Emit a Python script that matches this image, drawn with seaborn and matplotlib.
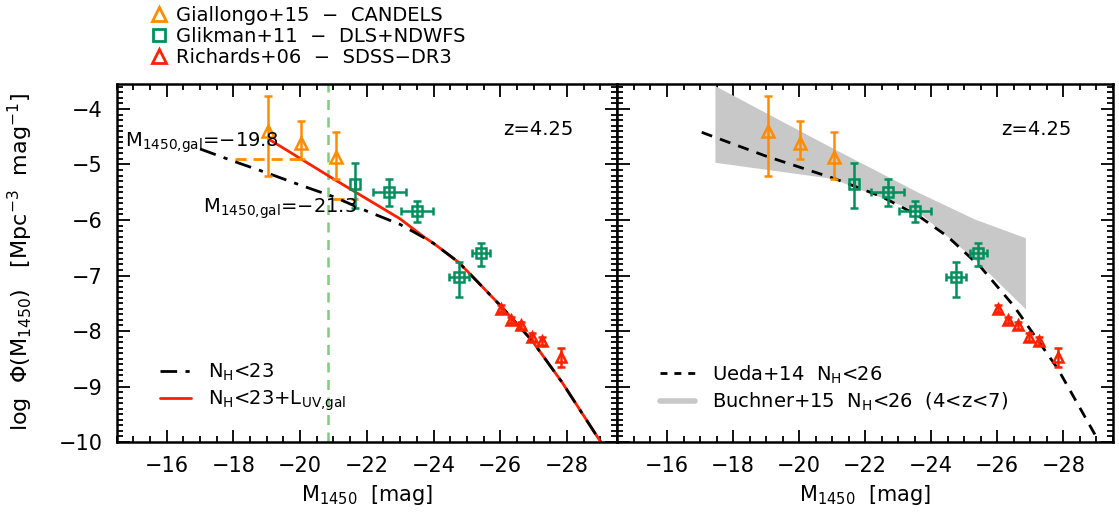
"""Quasar UV luminosity function at z=4.25: model curves vs. data
"""

import numpy as np
import matplotlib
matplotlib.use('Agg')
import matplotlib.pyplot as plt
from matplotlib.lines import Line2D
from matplotlib.ticker import MultipleLocator
import seaborn as sns

# Giallongo+15 (CANDELS)
gia_m = [-19.05, -20.03, -21.07]
gia_phi = [-4.39, -4.61, -4.87]
gia_err_up = [0.63, 0.39, 0.45]
gia_err_dw = [0.81, 0.29, 0.40]

# Glikman+11 (DLS+NDWFS)
gli_m = [-21.65, -22.68, -23.50, -24.75, -25.42]
gli_phi = [-5.35, -5.50, -5.83, -7.03, -6.60]
gli_err_up = [0.37, 0.23, 0.18, 0.28, 0.19]
gli_err_dw = [0.44, 0.25, 0.21, 0.36, 0.22]
gli_xerr = [0.0, 0.50, 0.48, 0.30, 0.26]

# Richards+06 (SDSS-DR3)
ric_m = [-26.02, -26.32, -26.63, -26.95, -27.25, -27.83]
ric_phi = [-7.60, -7.80, -7.90, -8.11, -8.18, -8.47]
ric_err = [0.06, 0.06, 0.06, 0.07, 0.08, 0.17]

# N_H<23 model (dash-dot)
nh23_m = [-17.0, -18.0, -19.0, -20.0, -21.0, -22.0, -23.0, -23.6, -24.0,
          -24.75, -25.3, -26.05, -26.95, -27.85, -28.95, -29.5]
nh23_phi = [-4.72, -4.94, -5.15, -5.37, -5.58, -5.84, -6.08, -6.28, -6.42,
            -6.76, -7.10, -7.57, -8.17, -8.92, -9.94, -10.45]

# N_H<23 + galaxy UV light (solid red)
gal_m = [-19.05, -20.0, -21.0, -22.0, -23.0, -23.7, -24.0, -24.75, -25.3,
         -26.05, -26.95, -27.85, -28.95, -29.5]
gal_phi = [-4.54, -4.89, -5.26, -5.62, -5.98, -6.30, -6.42, -6.76, -7.10,
           -7.57, -8.17, -8.92, -9.94, -10.45]

# Ueda+14 N_H<26 (dashed)
ueda_m = [-17.05, -19.0, -21.1, -22.5, -23.6, -24.5, -25.5, -26.5, -27.83,
          -29.13]
ueda_phi = [-4.42, -4.85, -5.26, -5.58, -5.92, -6.30, -6.85, -7.55, -8.68,
            -10.05]

# Buchner+15 N_H<26 (4<z<7) band
buc_m = [-17.45, -21.0, -23.6, -25.3, -26.85]
buc_hi = [-3.58, -4.70, -5.50, -5.98, -6.32]
buc_lo = [-4.96, -5.25, -5.85, -6.70, -7.60]

# galaxy magnitude limits
mgal_lines = [(-18.05, -20.0, -4.90), (-21.0, -21.75, -5.62)]
m_vline = -20.84

c_gia = '#ff8c00'
c_gli = '#00905c'
c_ric = '#ff2000'
c_vline = '#80cc80'


def draw_data(ax):
    kw = dict(ls='none', capsize=3, elinewidth=1.8, capthick=1.8,
              mfc='none', mew=1.8)
    ax.errorbar(gia_m, gia_phi, yerr=[gia_err_dw, gia_err_up], marker='^',
                ms=9, color=c_gia, zorder=6, **kw)
    ax.errorbar(gli_m, gli_phi, yerr=[gli_err_dw, gli_err_up], xerr=gli_xerr,
                marker='s', ms=7, color=c_gli, zorder=6, **kw)
    ax.errorbar(ric_m, ric_phi, yerr=ric_err, marker='^', ms=7, color=c_ric,
                zorder=6, **kw)


def style_axis(ax):
    ax.set_xlim(-14.5, -29.5)
    ax.set_ylim(-10.0, -3.55)
    ax.xaxis.set_major_locator(MultipleLocator(2))
    ax.xaxis.set_minor_locator(MultipleLocator(0.5))
    ax.yaxis.set_major_locator(MultipleLocator(1))
    ax.yaxis.set_minor_locator(MultipleLocator(0.1))
    ax.tick_params(which='both', direction='in', top=True, right=True,
                   width=1.3, labelsize=15, pad=10, color='k',
                   labelcolor='k')
    ax.tick_params(which='major', length=9)
    ax.tick_params(which='minor', length=4.5)
    for s in ax.spines.values():
        s.set_linewidth(1.8)
        s.set_color('k')
    ax.set_xlabel(r'M$_{\mathregular{1450}}$  [mag]', fontsize=15,
                  labelpad=5, color='k')
    ax.text(-26.1, -4.37, 'z=4.25', fontsize=14, va='center', ha='left',
            color='k')


if __name__ == '__main__':

    sns.set_style('ticks', {'axes.edgecolor': 'k', 'text.color': 'k',
                            'axes.labelcolor': 'k', 'xtick.color': 'k',
                            'ytick.color': 'k'})
    plt.rcParams['font.family'] = ['DejaVu Sans']
    plt.rcParams['mathtext.fontset'] = 'dejavusans'

    fig = plt.figure(figsize=(11.19, 5.18), dpi=100)
    ax1 = fig.add_axes([0.1043, 0.1467, 0.4470, 0.6911])
    ax2 = fig.add_axes([0.5518, 0.1467, 0.4428, 0.6911])

    # ---- left panel
    ax1.axvline(m_vline, color=c_vline, ls=(0, (4, 3)), lw=1.8, zorder=1)
    sns.lineplot(x=gal_m, y=gal_phi, ax=ax1, sort=False, estimator=None,
                 color=c_ric, lw=2, zorder=3)
    sns.lineplot(x=nh23_m, y=nh23_phi, ax=ax1, sort=False, estimator=None,
                 color='k', lw=2, linestyle=(0, (6, 3, 1.5, 3)), zorder=4)
    for m0, m1, p in mgal_lines:
        ax1.plot([m0, m1], [p, p], color=c_gia, ls=(0, (4, 2.5)), lw=2,
                 zorder=2)
    draw_data(ax1)
    ax1.text(-14.75, -4.60, r'M$_{\mathregular{1450{,}gal}}$=−19.8',
             fontsize=14, va='center', ha='left', zorder=7)
    ax1.text(-17.1, -5.80, r'M$_{\mathregular{1450{,}gal}}$=−21.3',
             fontsize=14, va='center', ha='left', zorder=7)
    style_axis(ax1)

    h1 = [Line2D([], [], color='k', lw=2, ls=(0, (6, 3, 1.5, 3))),
          Line2D([], [], color=c_ric, lw=2)]
    l1 = [r'N$_{\mathregular{H}}$<23',
          r'N$_{\mathregular{H}}$<23+L$_{\mathregular{UV{,}gal}}$']
    ax1.legend(h1, l1, loc='lower left', bbox_to_anchor=(0.07, 0.06),
               frameon=False, fontsize=14, handlelength=1.6,
               handletextpad=0.9, labelspacing=0.25, borderaxespad=0)

    # ---- right panel
    ax2.fill_between(buc_m, buc_lo, buc_hi, color='#c8c8c8', lw=0, zorder=1)
    sns.lineplot(x=ueda_m, y=ueda_phi, ax=ax2, sort=False, estimator=None,
                 color='k', lw=2, linestyle=(0, (4, 3)), zorder=4)
    draw_data(ax2)
    style_axis(ax2)
    ax2.tick_params(labelleft=False)

    h2 = [Line2D([], [], color='k', lw=2, ls=(0, (2.5, 2.5))),
          Line2D([], [], color='#c8c8c8', lw=4)]
    l2 = [r'Ueda+14  N$_{\mathregular{H}}$<26',
          r'Buchner+15  N$_{\mathregular{H}}$<26  (4<z<7)']
    ax2.legend(h2, l2, loc='lower left', bbox_to_anchor=(0.07, 0.06),
               frameon=False, fontsize=14, handlelength=1.8,
               handletextpad=0.9, labelspacing=0.25, borderaxespad=0)

    fig.text(0.018, 0.494,
             r'log  Φ(M$_{\mathregular{1450}}$)   [Mpc$^{\mathregular{-3}}$  '
             r'mag$^{\mathregular{-1}}$]',
             rotation=90, fontsize=16, va='center', ha='center')

    # ---- top legend (data sets)
    hd = [Line2D([], [], ls='none', marker='^', ms=10, mfc='none', mew=2,
                 color=c_gia),
          Line2D([], [], ls='none', marker='s', ms=9, mfc='none', mew=2,
                 color=c_gli),
          Line2D([], [], ls='none', marker='^', ms=10, mfc='none', mew=2,
                 color=c_ric)]
    ld = ['Giallongo+15  −  CANDELS', 'Glikman+11  −  DLS+NDWFS',
          'Richards+06  −  SDSS−DR3']
    fig.legend(hd, ld, loc='upper left', bbox_to_anchor=(0.128, 1.003),
               frameon=False, fontsize=14, handlelength=0.8,
               handletextpad=0.5, labelspacing=0.1, borderaxespad=0)

    plt.savefig('out.png', dpi=100)
